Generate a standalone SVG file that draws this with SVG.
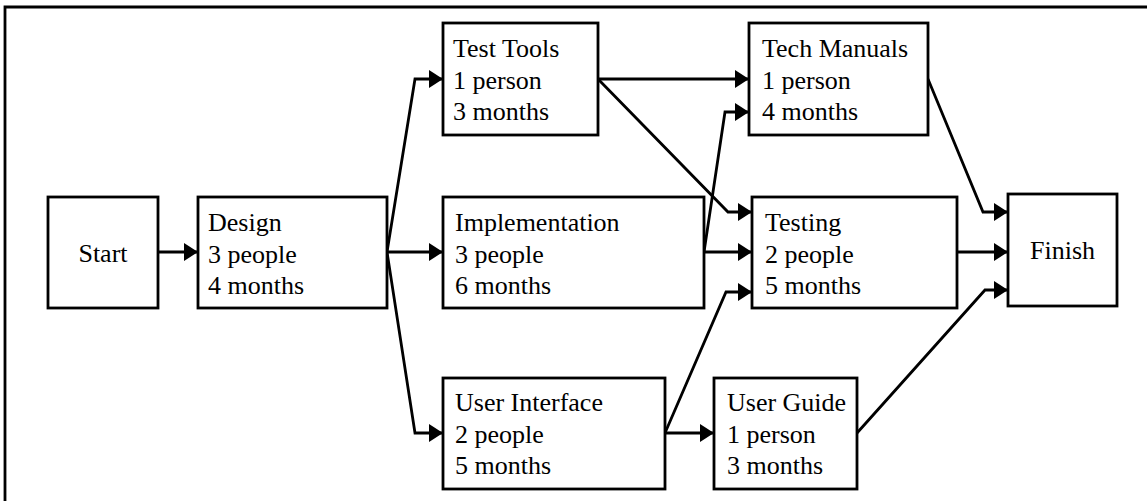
<svg xmlns="http://www.w3.org/2000/svg" width="1147" height="501" viewBox="0 0 1147 501">
<style>
  .box { fill: #fff; stroke: #000; stroke-width: 2.8; }
  .lbl { font-family: 'Liberation Serif', 'Times New Roman', Times, 'DejaVu Serif', serif; font-size: 26px; fill: #000; }
  .conn { fill: none; stroke: #000; stroke-width: 2.8; marker-end: url(#arr); }
  .frame { fill: none; stroke: #000; stroke-width: 2.8; }
</style>
<defs>
  <marker id="arr" markerWidth="14" markerHeight="18" refX="14" refY="9" orient="auto" markerUnits="userSpaceOnUse">
    <path d="M0,0 L14,9 L0,18 Z" fill="#000"/>
  </marker>
</defs>
<rect width="1147" height="501" fill="#fff"/>
<path class="frame" d="M5,501 V7 H1147"/>

<g id="connectors">
  <path class="conn" d="M158,252 H198"/>
  <path class="conn" d="M387,252 L415,79 H443"/>
  <path class="conn" d="M387,252 H443"/>
  <path class="conn" d="M387,252 L415,433 H443"/>
  <path class="conn" d="M598,79 H749"/>
  <path class="conn" d="M598,79 L728,212 H752"/>
  <path class="conn" d="M704,252 L725,112 H749"/>
  <path class="conn" d="M704,252 H752"/>
  <path class="conn" d="M665,433 L726,292 H752"/>
  <path class="conn" d="M665,433 H714"/>
  <path class="conn" d="M928,79 L983,212 H1008"/>
  <path class="conn" d="M957,252 H1008"/>
  <path class="conn" d="M857,433 L985,290 H1008"/>
</g>

<g id="start">
  <rect class="box" x="48" y="197" width="110" height="111"/>
  <text class="lbl" x="103" y="262" text-anchor="middle">Start</text>
</g>
<g id="design">
  <rect class="box" x="198" y="197" width="189" height="111"/>
  <text class="lbl" x="208" y="231">Design</text>
  <text class="lbl" x="208" y="262.5">3 people</text>
  <text class="lbl" x="208" y="294">4 months</text>
</g>
<g id="test-tools">
  <rect class="box" x="443" y="23" width="155" height="112"/>
  <text class="lbl" x="453" y="57">Test Tools</text>
  <text class="lbl" x="453" y="88.5">1 person</text>
  <text class="lbl" x="453" y="120">3 months</text>
</g>
<g id="implementation">
  <rect class="box" x="443" y="197" width="261" height="111"/>
  <text class="lbl" x="455" y="231">Implementation</text>
  <text class="lbl" x="455" y="262.5">3 people</text>
  <text class="lbl" x="455" y="294">6 months</text>
</g>
<g id="user-interface">
  <rect class="box" x="443" y="378" width="222" height="111"/>
  <text class="lbl" x="455" y="411">User Interface</text>
  <text class="lbl" x="455" y="443">2 people</text>
  <text class="lbl" x="455" y="474">5 months</text>
</g>
<g id="tech-manuals">
  <rect class="box" x="749" y="23" width="179" height="112"/>
  <text class="lbl" x="762" y="57">Tech Manuals</text>
  <text class="lbl" x="762" y="88.5">1 person</text>
  <text class="lbl" x="762" y="120">4 months</text>
</g>
<g id="testing">
  <rect class="box" x="752" y="197" width="205" height="111"/>
  <text class="lbl" x="765" y="231">Testing</text>
  <text class="lbl" x="765" y="262.5">2 people</text>
  <text class="lbl" x="765" y="294">5 months</text>
</g>
<g id="user-guide">
  <rect class="box" x="714" y="378" width="143" height="111"/>
  <text class="lbl" x="727" y="411">User Guide</text>
  <text class="lbl" x="727" y="443">1 person</text>
  <text class="lbl" x="727" y="474">3 months</text>
</g>
<g id="finish">
  <rect class="box" x="1008" y="194" width="109" height="112"/>
  <text class="lbl" x="1062.5" y="259" text-anchor="middle">Finish</text>
</g>
</svg>
